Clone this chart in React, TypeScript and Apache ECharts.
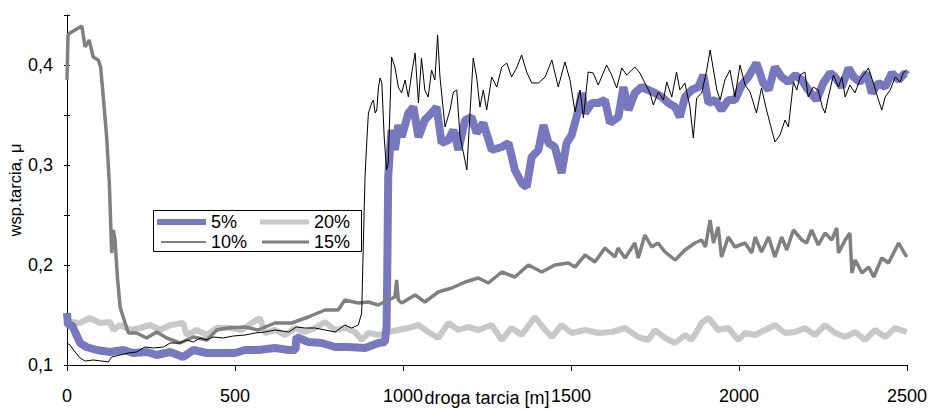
import React, { useEffect, useRef } from "react";
import * as echarts from "echarts";

const FONT = '"Liberation Sans", Arial, Helvetica, sans-serif';

const xTicks = [0, 500, 1000, 1500, 2000, 2500];
const yLabels = [0.1, 0.2, 0.3, 0.4];
const seriesNames = ["5%", "10%", "15%", "20%"];

const s5: [number, number][] = [
  [0, 0.152], [3, 0.14], [15, 0.14], [24, 0.133], [39, 0.122], [58, 0.118], [88, 0.115], [128, 0.113],
  [168, 0.115], [197, 0.112], [237, 0.113], [267, 0.11], [307, 0.113], [346, 0.108], [376, 0.115],
  [416, 0.112], [455, 0.112], [500, 0.112], [530, 0.115], [570, 0.115], [619, 0.117], [659, 0.115],
  [680, 0.115], [683, 0.128], [718, 0.123], [758, 0.122], [798, 0.118], [837, 0.118], [887, 0.117],
  [927, 0.122], [946, 0.123], [951, 0.138], [953, 0.188], [956, 0.288], [961, 0.315], [966, 0.335],
  [976, 0.315], [986, 0.34], [996, 0.328], [1016, 0.352], [1031, 0.358], [1046, 0.328], [1065, 0.345],
  [1085, 0.352], [1100, 0.358], [1115, 0.322], [1135, 0.325], [1150, 0.335], [1165, 0.315], [1185, 0.345],
  [1204, 0.348], [1219, 0.332], [1239, 0.342], [1264, 0.315], [1294, 0.318], [1314, 0.322], [1333, 0.295],
  [1353, 0.282], [1368, 0.278], [1383, 0.308], [1403, 0.315], [1418, 0.34], [1433, 0.322], [1452, 0.318],
  [1472, 0.292], [1487, 0.322], [1502, 0.33], [1522, 0.355], [1532, 0.372], [1542, 0.352], [1562, 0.362],
  [1581, 0.362], [1601, 0.365], [1616, 0.342], [1641, 0.348], [1656, 0.378], [1671, 0.355], [1690, 0.372],
  [1710, 0.378], [1730, 0.375], [1750, 0.372], [1770, 0.368], [1790, 0.362], [1810, 0.358], [1824, 0.348],
  [1839, 0.368], [1859, 0.375], [1879, 0.378], [1894, 0.39], [1909, 0.362], [1929, 0.365], [1948, 0.355],
  [1968, 0.365], [1988, 0.365], [2008, 0.38], [2028, 0.388], [2052, 0.402], [2072, 0.382], [2088, 0.375],
  [2107, 0.398], [2127, 0.388], [2147, 0.383], [2167, 0.39], [2187, 0.385], [2206, 0.375], [2231, 0.365],
  [2251, 0.382], [2271, 0.392], [2286, 0.388], [2306, 0.378], [2326, 0.397], [2341, 0.388], [2360, 0.383],
  [2380, 0.392], [2395, 0.372], [2415, 0.382], [2435, 0.378], [2455, 0.392], [2475, 0.385], [2494, 0.392],
  [2499, 0.39],
];

const s10: [number, number][] = [
  [0, 0.122], [9, 0.12], [24, 0.113], [39, 0.107], [54, 0.104], [78, 0.105], [103, 0.104], [123, 0.103],
  [133, 0.108], [158, 0.11], [183, 0.112], [207, 0.113], [232, 0.118], [257, 0.117], [287, 0.118],
  [307, 0.122], [336, 0.122], [356, 0.125], [376, 0.123], [396, 0.127], [416, 0.125], [435, 0.128],
  [465, 0.127], [495, 0.129], [530, 0.13], [560, 0.132], [589, 0.133], [619, 0.135], [659, 0.133],
  [683, 0.138], [708, 0.137], [738, 0.137], [768, 0.135], [798, 0.133], [827, 0.14], [847, 0.137],
  [867, 0.14], [877, 0.152], [882, 0.222], [887, 0.288], [892, 0.322], [897, 0.352], [907, 0.362],
  [912, 0.365], [917, 0.352], [922, 0.355], [927, 0.378], [932, 0.387], [937, 0.382], [944, 0.328],
  [951, 0.295], [956, 0.302], [961, 0.355], [966, 0.408], [976, 0.398], [986, 0.378], [996, 0.372],
  [1006, 0.385], [1016, 0.368], [1026, 0.392], [1036, 0.412], [1046, 0.362], [1055, 0.407], [1065, 0.375],
  [1075, 0.368], [1085, 0.395], [1095, 0.385], [1103, 0.43], [1110, 0.388], [1125, 0.338], [1140, 0.355],
  [1150, 0.373], [1160, 0.375], [1170, 0.328], [1180, 0.312], [1190, 0.295], [1200, 0.355], [1209, 0.407],
  [1219, 0.388], [1229, 0.358], [1239, 0.375], [1249, 0.355], [1264, 0.388], [1279, 0.378], [1294, 0.398],
  [1309, 0.402], [1323, 0.388], [1338, 0.397], [1353, 0.41], [1368, 0.393], [1383, 0.382], [1403, 0.382],
  [1423, 0.388], [1443, 0.405], [1462, 0.378], [1482, 0.403], [1497, 0.385], [1512, 0.353], [1527, 0.375],
  [1537, 0.347], [1551, 0.393], [1566, 0.392], [1581, 0.38], [1606, 0.4], [1621, 0.39], [1636, 0.377],
  [1651, 0.397], [1666, 0.39], [1681, 0.395], [1690, 0.398], [1705, 0.392], [1720, 0.382], [1735, 0.372],
  [1745, 0.36], [1760, 0.373], [1775, 0.365], [1785, 0.383], [1800, 0.368], [1814, 0.393], [1824, 0.375],
  [1839, 0.382], [1854, 0.358], [1864, 0.327], [1874, 0.367], [1889, 0.372], [1904, 0.395], [1914, 0.415],
  [1924, 0.395], [1934, 0.375], [1944, 0.365], [1958, 0.385], [1973, 0.395], [1988, 0.368], [2003, 0.4],
  [2018, 0.38], [2033, 0.373], [2052, 0.352], [2067, 0.377], [2082, 0.355], [2092, 0.342], [2107, 0.323],
  [2122, 0.33], [2137, 0.345], [2147, 0.338], [2162, 0.383], [2172, 0.375], [2182, 0.39], [2196, 0.393],
  [2206, 0.368], [2221, 0.378], [2236, 0.375], [2248, 0.358], [2256, 0.352], [2266, 0.368], [2281, 0.39],
  [2296, 0.378], [2306, 0.388], [2316, 0.368], [2330, 0.38], [2345, 0.372], [2360, 0.385], [2375, 0.392],
  [2385, 0.397], [2400, 0.382], [2415, 0.365], [2425, 0.355], [2435, 0.368], [2450, 0.375], [2465, 0.388],
  [2479, 0.383], [2489, 0.392], [2499, 0.395],
];

const s15: [number, number][] = [
  [0, 0.385], [3, 0.43], [9, 0.432], [24, 0.435], [44, 0.439], [54, 0.418], [66, 0.425], [78, 0.408],
  [93, 0.405], [100, 0.398], [108, 0.368], [118, 0.328], [126, 0.282], [133, 0.212], [138, 0.235],
  [143, 0.225], [150, 0.188], [158, 0.158], [173, 0.142], [183, 0.132], [207, 0.132], [237, 0.127],
  [267, 0.133], [297, 0.127], [336, 0.122], [376, 0.128], [416, 0.125], [446, 0.135], [475, 0.137],
  [530, 0.138], [568, 0.135], [619, 0.142], [669, 0.142], [718, 0.148], [768, 0.155], [807, 0.155],
  [827, 0.165], [867, 0.162], [897, 0.163], [926, 0.16], [956, 0.165], [976, 0.168], [981, 0.185],
  [986, 0.165], [996, 0.162], [1036, 0.17], [1065, 0.163], [1105, 0.173], [1145, 0.177], [1185, 0.183],
  [1224, 0.187], [1254, 0.182], [1294, 0.193], [1333, 0.188], [1373, 0.2], [1413, 0.193], [1452, 0.2],
  [1492, 0.202], [1512, 0.198], [1542, 0.21], [1571, 0.203], [1601, 0.217], [1631, 0.208], [1640, 0.217],
  [1661, 0.207], [1690, 0.222], [1700, 0.207], [1720, 0.23], [1740, 0.218], [1759, 0.222], [1780, 0.213],
  [1810, 0.205], [1839, 0.215], [1869, 0.222], [1889, 0.225], [1900, 0.218], [1914, 0.245], [1924, 0.222],
  [1938, 0.238], [1948, 0.208], [1968, 0.228], [1988, 0.218], [2018, 0.222], [2038, 0.212], [2048, 0.228],
  [2067, 0.213], [2088, 0.228], [2107, 0.208], [2127, 0.228], [2142, 0.215], [2162, 0.235], [2187, 0.225],
  [2201, 0.222], [2216, 0.235], [2236, 0.22], [2256, 0.232], [2276, 0.225], [2291, 0.237], [2296, 0.212],
  [2316, 0.225], [2330, 0.232], [2336, 0.192], [2346, 0.205], [2366, 0.192], [2386, 0.198], [2401, 0.188],
  [2425, 0.207], [2445, 0.202], [2475, 0.222], [2499, 0.208],
];

const s20: [number, number][] = [
  [0, 0.143], [15, 0.143], [39, 0.142], [68, 0.147], [98, 0.142], [128, 0.143], [138, 0.135], [158, 0.14],
  [188, 0.135], [217, 0.137], [247, 0.14], [277, 0.135], [307, 0.14], [346, 0.142], [356, 0.13], [386, 0.135],
  [416, 0.13], [446, 0.137], [485, 0.137], [520, 0.135], [550, 0.142], [574, 0.147], [589, 0.132], [619, 0.135],
  [649, 0.13], [679, 0.137], [708, 0.133], [738, 0.137], [768, 0.143], [798, 0.135], [827, 0.137], [857, 0.133],
  [877, 0.125], [897, 0.132], [927, 0.13], [956, 0.133], [986, 0.135], [1016, 0.137], [1046, 0.14], [1075, 0.133],
  [1105, 0.127], [1135, 0.142], [1165, 0.135], [1194, 0.138], [1224, 0.135], [1264, 0.14], [1294, 0.125],
  [1323, 0.137], [1353, 0.13], [1393, 0.148], [1423, 0.135], [1443, 0.128], [1472, 0.14], [1502, 0.132],
  [1542, 0.135], [1581, 0.132], [1621, 0.133], [1661, 0.137], [1700, 0.128], [1730, 0.125], [1750, 0.135],
  [1780, 0.127], [1810, 0.122], [1839, 0.13], [1859, 0.125], [1889, 0.142], [1909, 0.147], [1938, 0.135],
  [1968, 0.137], [1998, 0.125], [2018, 0.132], [2048, 0.13], [2077, 0.135], [2107, 0.14], [2137, 0.132],
  [2167, 0.133], [2196, 0.137], [2226, 0.13], [2256, 0.14], [2286, 0.132], [2316, 0.128], [2346, 0.133],
  [2375, 0.125], [2405, 0.135], [2435, 0.128], [2465, 0.137], [2499, 0.133],
];

const COLORS: Record<string, string> = {
  "5%": "#7878be",
  "10%": "#000000",
  "15%": "#808080",
  "20%": "#c8c8c8",
};

function fmtY(v: number): string {
  const r = Math.round(v * 10) / 10;
  if (Math.abs(v - r) > 1e-6) return "";
  if (!yLabels.some((l) => Math.abs(l - r) < 1e-6)) return "";
  return r.toFixed(1).replace(".", ",");
}

export default function App() {
  const ref = useRef<HTMLDivElement>(null);
  useEffect(() => {
    document.body.style.margin = "0";
    document.body.style.overflow = "hidden";
    if (!ref.current) return;
    const chart = echarts.init(ref.current, null, { renderer: "svg" });
    const legendText = { fontSize: 18, color: "#000", fontFamily: FONT };
    const mkLegend = (name: string, left: number, top: number, w: number, h: number) => ({
      data: [{ name, icon: "rect" }],
      left,
      top,
      itemWidth: w,
      itemHeight: h,
      padding: 0,
      itemGap: 0,
      selectedMode: false,
      textStyle: legendText,
    });
    chart.setOption({
      animation: false,
      backgroundColor: "#ffffff",
      textStyle: { fontFamily: FONT },
      grid: {
        left: 67, right: 23, top: 15, bottom: 44,
        containLabel: false, outerBoundsMode: "none",
      },
      legend: [
        mkLegend(seriesNames[0], 157, 213, 49, 6),
        mkLegend(seriesNames[3], 260, 213, 49, 5),
        mkLegend(seriesNames[1], 161, 233, 45, 1),
        mkLegend(seriesNames[2], 262, 233, 47, 3),
      ],
      graphic: [
        {
          type: "rect",
          shape: { x: 153.5, y: 210.5, width: 208, height: 41 },
          style: { fill: "rgba(0,0,0,0)", stroke: "#000", lineWidth: 1 },
          z: 1,
        },
      ],
      xAxis: {
        type: "value",
        min: xTicks[0],
        max: xTicks[xTicks.length - 1],
        interval: 500,
        name: "droga tarcia [m]",
        nameLocation: "middle",
        nameGap: 24,
        nameMoveOverlap: false,
        nameTextStyle: { fontSize: 18, color: "#000", fontFamily: FONT, lineHeight: 18 },
        axisLine: { lineStyle: { color: "#000", width: 1 } },
        axisTick: { show: true, inside: false, length: 6, lineStyle: { color: "#000" } },
        axisLabel: {
          fontSize: 18, color: "#000", margin: 22, fontFamily: FONT,
          formatter: (v: number) => String(Math.round(v)),
        },
        splitLine: { show: false },
      },
      yAxis: [
        {
          type: "value",
          min: 0.1,
          max: 0.45,
          interval: 0.05,
          name: "wsp.tarcia, μ",
          nameLocation: "middle",
          nameGap: 44,
          nameMoveOverlap: false,
          nameTextStyle: { fontSize: 16.5, color: "#000", fontFamily: FONT },
          axisLine: { show: true, lineStyle: { color: "#000", width: 1 } },
          axisTick: { show: true, inside: false, length: 3, lineStyle: { color: "#000" } },
          axisLabel: { fontSize: 18, color: "#000", margin: 14, fontFamily: FONT, formatter: fmtY },
          splitLine: { show: false },
        },
        {
          type: "value",
          position: "left",
          min: 0.1,
          max: 0.45,
          interval: 0.05,
          axisLine: { show: false },
          axisTick: { show: true, inside: true, length: 3, lineStyle: { color: "#000" } },
          axisLabel: { show: false },
          splitLine: { show: false },
        },
      ],
      series: [
        {
          name: "20%", type: "line", data: s20, symbol: "none", showSymbol: false, z: 2,
          color: COLORS["20%"], lineStyle: { width: 6, color: COLORS["20%"] },
        },
        {
          name: "5%", type: "line", data: s5, symbol: "none", showSymbol: false, z: 3,
          color: COLORS["5%"], lineStyle: { width: 8, color: COLORS["5%"] },
        },
        {
          name: "15%", type: "line", data: s15, symbol: "none", showSymbol: false, z: 4,
          color: COLORS["15%"], lineStyle: { width: 3.5, color: COLORS["15%"] },
        },
        {
          name: "10%", type: "line", data: s10, symbol: "none", showSymbol: false, z: 5,
          color: COLORS["10%"], lineStyle: { width: 1, color: COLORS["10%"] },
        },
      ],
    });
    return () => chart.dispose();
  }, []);
  return (
    <div
      ref={ref}
      style={{ position: "fixed", left: 0, top: 0, width: 930, height: 409, background: "#fff" }}
    />
  );
}
